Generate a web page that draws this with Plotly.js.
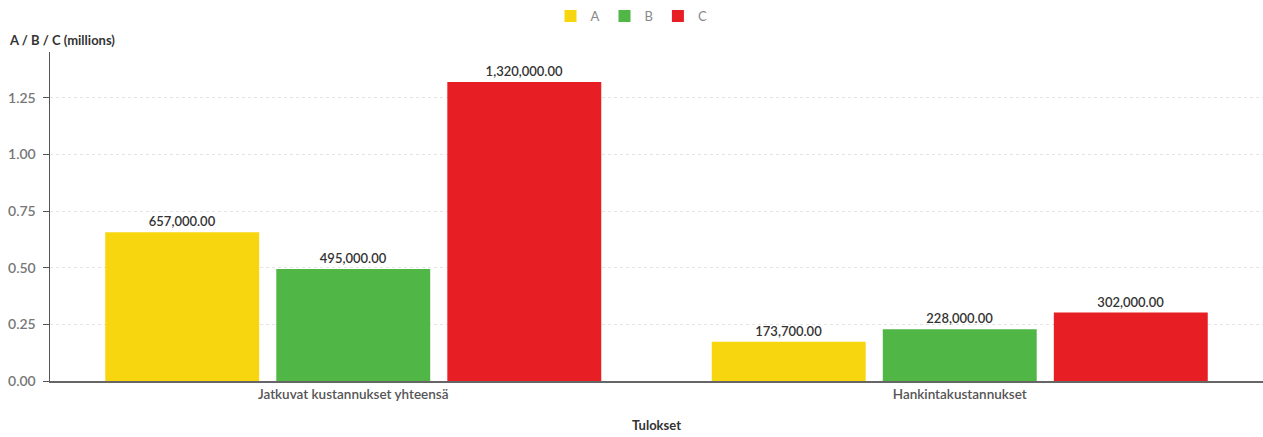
<!DOCTYPE html>
<html>
<head>
<meta charset="utf-8">
<script src="https://cdn.plot.ly/plotly-3.0.1.min.js"></script>
<style>html,body{margin:0;padding:0;background:#fff;}#chart{width:1263px;height:437px;}</style>
</head>
<body>
<div id="chart"></div>
<script>
const categories = ["Jatkuvat kustannukset yhteensä", "Hankintakustannukset"];
const seriesNames = ["A", "B", "C"];
const valuesA = [657000, 173700];
const valuesB = [495000, 228000];
const valuesC = [1320000, 302000];
const colors = ["#F8D60F", "#50B747", "#E81E25"];
const allValues = [valuesA, valuesB, valuesC];

const traces = allValues.map((vals, i) => ({
  type: "bar",
  name: seriesNames[i],
  x: categories,
  y: vals.map(v => v / 1e6),
  customdata: vals,
  texttemplate: "%{customdata:,.2f}",
  textposition: "outside",
  cliponaxis: false,
  textfont: {family: "Lato, sans-serif", size: 13, color: "#333", weight: 600},
  marker: {color: colors[i]},
  hoverinfo: "none"
}));

const layout = {
  width: 1263, height: 437,
  margin: {l: 50, r: 0, t: 52, b: 56},
  paper_bgcolor: "#fff", plot_bgcolor: "#fff",
  font: {family: "Lato, sans-serif", color: "#666"},
  barmode: "group",
  bargap: 0.154,
  bargroupgap: 0.1,
  showlegend: true,
  legend: {orientation: "h", x: 0.5, xref: "container", xanchor: "center",
           y: 1 - 16/437, yref: "container", yanchor: "middle",
           font: {size: 13, color: "#888"}, itemwidth: 30, traceorder: "normal"},
  xaxis: {
    showgrid: false, showline: true, linecolor: "#666", linewidth: 2,
    ticks: "", tickfont: {size: 13.5, color: "#555", weight: 600},
    title: {text: "<b>Tulokset</b>", font: {size: 13, color: "#333"}, standoff: 20},
    fixedrange: true
  },
  yaxis: {
    range: [0, 1.453], dtick: 0.25, tick0: 0, tickformat: ".2f",
    showgrid: true, gridcolor: "#e4e4e4", griddash: "dot", gridwidth: 1,
    showline: true, linecolor: "#555", linewidth: 1.5,
    ticks: "outside", ticklen: 6, tickcolor: "#555",
    tickfont: {size: 14, color: "#777", weight: 600},
    ticklabelstandoff: 4,
    zeroline: false, fixedrange: true
  },
  annotations: [{
    text: "<b>A / B / C (millions)</b>", xref: "paper", yref: "paper",
    x: -50/1213, xanchor: "left", y: 1, yshift: 2, yanchor: "bottom",
    showarrow: false, font: {size: 13, color: "#333"}, xshift: 7
  }]
};

Plotly.newPlot("chart", traces, layout, {staticPlot: true});
</script>
</body>
</html>
